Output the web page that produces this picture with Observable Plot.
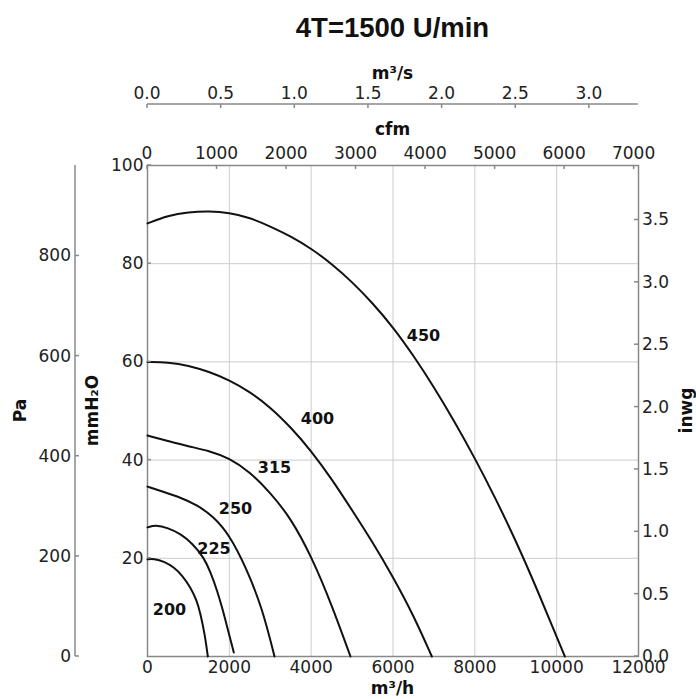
<!DOCTYPE html>
<html><head><meta charset="utf-8">
<script src="https://cdn.jsdelivr.net/npm/d3@7"></script>
<script src="https://cdn.jsdelivr.net/npm/@observablehq/plot@0.6"></script>
<style>body{margin:0;background:#fff}</style>
</head><body><div id="chart"></div>
<script>
const title = "4T=1500 U/min";
const xLabel = "m³/h", yLabel = "mmH₂O", paLabel = "Pa", inwgLabel = "inwg", cfmLabel = "cfm", m3sLabel = "m³/s";
const xTicks = [0, 2000, 4000, 6000, 8000, 10000, 12000];
const yTicks = [20, 40, 60, 80, 100];
const gridXVals = [2000, 4000, 6000, 8000, 10000];
const gridYVals = [20, 40, 60, 80];
const paTicks = [0, 200, 400, 600, 800];
const inwgTicks = [0, 0.5, 1, 1.5, 2, 2.5, 3, 3.5];
const cfmTicks = [0, 1000, 2000, 3000, 4000, 5000, 6000, 7000];
const m3sTicks = [0, 0.5, 1, 1.5, 2, 2.5, 3];
const PA_PER_MM = 9.80665, MM_PER_INWG = 25.4, M3H_PER_CFM = 1.699011, M3H_PER_M3S = 3600;

const sizes = ["200", "225", "250", "315", "400", "450"];
const q200 = [0, 155, 400, 643, 850, 1051, 1200, 1296, 1400, 1475];
const p200 = [19.8, 19.9, 19.4, 18.2, 16.5, 14.1, 11.5, 8.7, 4.5, 0];
const q225 = [0, 196, 500, 807, 1100, 1376, 1550, 1703, 1830, 1948, 2040, 2110];
const p225 = [26.3, 26.8, 26.2, 25.0, 23.0, 20.2, 17.0, 13.4, 9.8, 6.0, 3.0, 0.8];
const q250 = [0, 400, 800, 1200, 1600, 2000, 2400, 2800, 3104];
const p250 = [34.6, 33.5, 32.4, 30.9, 28.6, 24.8, 18.3, 10.0, 0];
const q315 = [0, 500, 1000, 1500, 2000, 2500, 3000, 3500, 4000, 4500, 4961];
const p315 = [45.0, 43.9, 42.8, 41.9, 40.4, 37.6, 33.4, 28.2, 20.5, 10.6, 0];
const q400 = [0, 500, 1000, 1500, 2000, 2500, 3000, 3500, 4000, 4500, 5000, 5500, 6000, 6500, 6950];
const p400 = [60.0, 59.9, 59.3, 58.0, 56.3, 53.9, 50.8, 46.7, 41.9, 36.2, 29.8, 23.3, 16.2, 8.4, 0];
const q450 = [0, 500, 1000, 1500, 2000, 2500, 3000, 3500, 4000, 4500, 5000, 5500, 6000, 6500, 7000, 7500, 8000, 8500, 9000, 9500, 10000, 10200];
const p450 = [88.2, 89.8, 90.5, 90.7, 90.4, 89.4, 87.6, 85.6, 83.1, 80.0, 76.3, 72.0, 67.1, 61.3, 54.9, 47.9, 40.4, 32.3, 23.6, 14.1, 4.0, 0];

const labelX = [538, 1625, 2151, 3104, 4155, 6745];
const labelY = [9.4, 22.0, 30.1, 38.5, 48.3, 65.4];

const qs = [q200, q225, q250, q315, q400, q450];
const ps = [p200, p225, p250, p315, p400, p450];
const curves = sizes.flatMap((s, i) => qs[i].map((q, j) => ({size: s, q, p: ps[i][j]})));
const labels = sizes.map((s, i) => ({size: s, x: labelX[i], y: labelY[i]}));

const FONT = "DejaVu Sans";
const AX = "#888";
const TXT = "#222";

function extras(index, scales, values, dims) {
  const {x, y} = scales;
  const L = dims.marginLeft, R = dims.width - dims.marginRight, T = dims.marginTop, B = dims.height - dims.marginBottom;
  const g = d3.create("svg:g").attr("font-family", FONT).attr("fill", TXT);
  const line = (x1, y1, x2, y2) => g.append("line").attr("x1", x1).attr("y1", y1).attr("x2", x2).attr("y2", y2).attr("stroke", AX).attr("stroke-width", 1.5);
  const text = (tx, ty, s, anchor, opts = {}) => {
    const t = g.append("text").attr("x", tx).attr("y", ty).attr("text-anchor", anchor).attr("font-size", opts.size || 17).text(s);
    if (opts.bold) t.attr("font-weight", "bold");
    if (opts.dy) t.attr("dy", opts.dy);
    if (opts.rotate) t.attr("transform", `rotate(-90 ${tx} ${ty})`);
    if (opts.family) t.attr("font-family", opts.family);
    if (opts.fill) t.attr("fill", opts.fill);
    return t;
  };
  for (const v of yTicks) line(L, y(v), L + 4, y(v));
  // Pa axis
  const paX = L - 72;
  line(paX, T, paX, B);
  for (const v of paTicks) {
    const py = y(v / PA_PER_MM);
    line(paX, py, paX + 4, py);
    text(paX - 4, py, String(v), "end", {dy: "0.35em"});
  }
  text(20, (T + B) / 2, paLabel, "middle", {bold: true, rotate: true, dy: "0.35em", fill: "#111"});
  text(92, (T + B) / 2, yLabel, "middle", {bold: true, rotate: true, dy: "0.35em", fill: "#111"});
  // inwg axis (right)
  for (const v of inwgTicks) {
    const py = y(v * MM_PER_INWG);
    line(R - 4, py, R, py);
    text(R + 4, py, v.toFixed(1), "start", {dy: "0.35em"});
  }
  text(686, (T + B) / 2, inwgLabel, "middle", {bold: true, rotate: true, dy: "0.35em", fill: "#111"});
  // cfm axis (top)
  for (const v of cfmTicks) {
    const px = x(v * M3H_PER_CFM);
    line(px, T, px, T + 4);
    text(px, T - 6, String(v), "middle");
  }
  text((L + R) / 2, T - 30, cfmLabel, "middle", {bold: true, fill: "#111"});
  // m3/s axis
  const sY = T - 61;
  line(L, sY, R, sY);
  for (const v of m3sTicks) {
    const px = x(v * M3H_PER_M3S);
    line(px, sY, px, sY + 4);
    text(px, sY - 5, v.toFixed(1), "middle");
  }
  text((L + R) / 2, sY - 25, m3sLabel, "middle", {bold: true, fill: "#111"});
  text((L + R) / 2, B + 38, xLabel, "middle", {bold: true, fill: "#111"});
  text((L + R) / 2, 37, title, "middle", {bold: true, size: 27.5, family: "Liberation Sans, Arial, sans-serif", fill: "#111"});
  return g.node();
}

const chart = Plot.plot({
  width: 696,
  height: 699,
  marginLeft: 147,
  marginRight: 58,
  marginTop: 165,
  marginBottom: 43,
  style: {fontFamily: FONT, fontSize: "17px", color: TXT, background: "#fff"},
  x: {domain: [0, 12000]},
  y: {domain: [0, 100]},
  marks: [
    Plot.gridX(gridXVals, {stroke: "#ccc", strokeOpacity: 1, strokeWidth: 1}),
    Plot.gridY(gridYVals, {stroke: "#ccc", strokeOpacity: 1, strokeWidth: 1}),
    Plot.frame({stroke: AX, strokeWidth: 1.5}),
    Plot.axisX(xTicks, {anchor: "bottom", tickSize: 0, tickPadding: 4, label: null, fontSize: 17, tickFormat: d => String(d)}),
    Plot.axisY(yTicks, {anchor: "left", tickSize: 0, tickPadding: 4, label: null, fontSize: 17, tickFormat: d => String(d)}),
    Plot.line(curves, {x: "q", y: "p", z: "size", stroke: "#111", strokeWidth: 2, curve: "basis"}),
    Plot.text(labels, {x: "x", y: "y", text: "size", fontWeight: "bold", fontSize: 16, fill: "#111"}),
    extras
  ]
});
document.getElementById("chart").appendChild(chart);
</script>
</body></html>
